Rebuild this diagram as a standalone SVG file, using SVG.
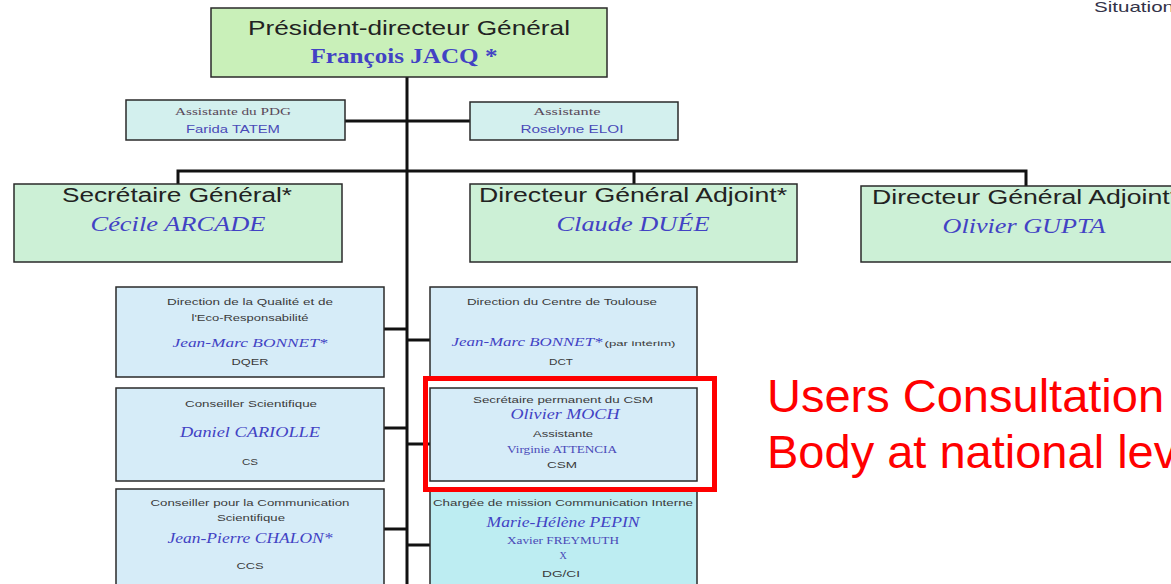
<svg xmlns="http://www.w3.org/2000/svg" width="1171" height="584" viewBox="0 0 1171 584">
<style>
.box{stroke:#2a2a2a;stroke-width:1.5}
.pdg{fill:#c9f0b9}
.asst{fill:#d3f0ee}
.dir{fill:#ccf0d6}
.unit{fill:#d6ecf8}
.unit2{fill:#bdedf2}
.ln{stroke:#111;stroke-width:3;fill:none}
.t{font-family:"Liberation Sans",Arial,sans-serif;fill:#222;text-anchor:middle}
.s{font-family:"Liberation Sans",Arial,sans-serif;fill:#3a3a3a;text-anchor:middle;font-size:9.5px}
.n{font-family:"Liberation Serif","Times New Roman",serif;fill:#4242c4;text-anchor:middle;font-style:italic}
.r{font-family:"Liberation Serif","Times New Roman",serif;fill:#4a4ab8;text-anchor:middle;font-size:10px}
.red{font-family:"Liberation Sans",Arial,sans-serif;fill:#ff0000;font-size:47px}
</style>
<rect width="1171" height="584" fill="#ffffff"/>
<g id="connectors">
<line class="ln" x1="407" y1="77" x2="407" y2="584"/>
<line class="ln" x1="345" y1="121" x2="470" y2="121"/>
<polyline class="ln" points="178,184 178,171 1026,171 1026,186"/>
<line class="ln" x1="634" y1="171" x2="634" y2="184"/>
<line class="ln" x1="384" y1="329" x2="407" y2="329"/>
<line class="ln" x1="384" y1="428" x2="407" y2="428"/>
<line class="ln" x1="384" y1="529" x2="407" y2="529"/>
<line class="ln" x1="407" y1="340" x2="430" y2="340"/>
<line class="ln" x1="407" y1="444" x2="430" y2="444"/>
<line class="ln" x1="407" y1="545" x2="430" y2="545"/>
</g>
<text class="t" x="1094" y="12" style="text-anchor:start;fill:#333348" font-size="15" textLength="80" lengthAdjust="spacingAndGlyphs">Situation</text>
<g id="pdg">
<rect class="box pdg" x="211" y="8" width="396" height="69"/>
<text class="t" x="409" y="35" font-size="21" textLength="322" lengthAdjust="spacingAndGlyphs">Président-directeur Général</text>
<text class="n" x="404" y="63" font-size="20" style="font-style:normal;font-weight:bold" textLength="187" lengthAdjust="spacingAndGlyphs">François JACQ *</text>
</g>
<g id="assistante-pdg">
<rect class="box asst" x="126" y="100" width="219" height="40"/>
<text class="r" x="233" y="115" style="fill:#5a4a5a" font-size="9.5" textLength="116" lengthAdjust="spacingAndGlyphs">Assistante du PDG</text>
<text class="t" x="233" y="133" font-size="10" style="fill:#4a4ab8" textLength="94" lengthAdjust="spacingAndGlyphs">Farida TATEM</text>
</g>
<g id="assistante">
<rect class="box asst" x="470" y="102" width="208" height="38"/>
<text class="r" x="567" y="115" style="fill:#5a4a5a" font-size="9.5" textLength="67" lengthAdjust="spacingAndGlyphs">Assistante</text>
<text class="t" x="572" y="133" font-size="10" style="fill:#4a4ab8" textLength="103" lengthAdjust="spacingAndGlyphs">Roselyne ELOI</text>
</g>
<g id="sg">
<rect class="box dir" x="14" y="184" width="328" height="78"/>
<text class="t" x="177" y="202" font-size="20" textLength="230" lengthAdjust="spacingAndGlyphs">Secrétaire Général*</text>
<text class="n" x="178" y="231" font-size="21" textLength="175" lengthAdjust="spacingAndGlyphs">Cécile ARCADE</text>
</g>
<g id="dga1">
<rect class="box dir" x="470" y="184" width="327" height="78"/>
<text class="t" x="633" y="202" font-size="20" textLength="308" lengthAdjust="spacingAndGlyphs">Directeur Général Adjoint*</text>
<text class="n" x="633" y="231" font-size="21" textLength="153" lengthAdjust="spacingAndGlyphs">Claude DUÉE</text>
</g>
<g id="dga2">
<rect class="box dir" x="861" y="186" width="330" height="76"/>
<text class="t" x="1026" y="204" font-size="20" textLength="308" lengthAdjust="spacingAndGlyphs">Directeur Général Adjoint*</text>
<text class="n" x="1024" y="233" font-size="21" textLength="163" lengthAdjust="spacingAndGlyphs">Olivier GUPTA</text>
</g>
<g id="dqer">
<rect class="box unit" x="116" y="287" width="268" height="90"/>
<text class="s" x="250" y="305" textLength="166" lengthAdjust="spacingAndGlyphs">Direction de la Qualité et de</text>
<text class="s" x="250" y="321" textLength="117" lengthAdjust="spacingAndGlyphs">l'Eco-Responsabilité</text>
<text class="n" x="250" y="347" font-size="13" textLength="155" lengthAdjust="spacingAndGlyphs">Jean-Marc BONNET*</text>
<text class="s" x="250" y="365" textLength="37" lengthAdjust="spacingAndGlyphs">DQER</text>
</g>
<g id="cs">
<rect class="box unit" x="116" y="388" width="268" height="93"/>
<text class="s" x="251" y="407" textLength="132" lengthAdjust="spacingAndGlyphs">Conseiller Scientifique</text>
<text class="n" x="250" y="437" font-size="14" textLength="140" lengthAdjust="spacingAndGlyphs">Daniel CARIOLLE</text>
<text class="s" x="250" y="465" textLength="16" lengthAdjust="spacingAndGlyphs">CS</text>
</g>
<g id="ccs">
<rect class="box unit" x="116" y="489" width="268" height="100"/>
<text class="s" x="250" y="506" textLength="199" lengthAdjust="spacingAndGlyphs">Conseiller pour la Communication</text>
<text class="s" x="251" y="521" textLength="68" lengthAdjust="spacingAndGlyphs">Scientifique</text>
<text class="n" x="250" y="543" font-size="14" textLength="165" lengthAdjust="spacingAndGlyphs">Jean-Pierre CHALON*</text>
<text class="s" x="250" y="569" textLength="27" lengthAdjust="spacingAndGlyphs">CCS</text>
</g>
<g id="dct">
<rect class="box unit" x="430" y="287" width="267" height="90"/>
<text class="s" x="562" y="305" textLength="190" lengthAdjust="spacingAndGlyphs">Direction du Centre de Toulouse</text>
<text class="n" x="527" y="346" font-size="13" textLength="151" lengthAdjust="spacingAndGlyphs">Jean-Marc BONNET*</text>
<text class="s" x="640" y="346" font-size="8" style="font-size:8px" textLength="71" lengthAdjust="spacingAndGlyphs">(par intérim)</text>
<text class="s" x="561" y="365" textLength="24" lengthAdjust="spacingAndGlyphs">DCT</text>
</g>
<g id="csm">
<rect class="box unit" x="430" y="388" width="267" height="93"/>
<text class="s" x="563" y="403" textLength="180" lengthAdjust="spacingAndGlyphs">Secrétaire permanent du CSM</text>
<text class="n" x="565" y="419" font-size="14" textLength="109" lengthAdjust="spacingAndGlyphs">Olivier MOCH</text>
<text class="s" x="563" y="437" textLength="60" lengthAdjust="spacingAndGlyphs">Assistante</text>
<text class="r" x="562" y="453" textLength="110" lengthAdjust="spacingAndGlyphs">Virginie ATTENCIA</text>
<text class="s" x="562" y="468" textLength="30" lengthAdjust="spacingAndGlyphs">CSM</text>
</g>
<g id="dgci">
<rect class="box unit2" x="430" y="489" width="267" height="100"/>
<text class="s" x="563" y="506" textLength="260" lengthAdjust="spacingAndGlyphs">Chargée de mission Communication Interne</text>
<text class="n" x="563" y="527" font-size="14" textLength="153" lengthAdjust="spacingAndGlyphs">Marie-Hélène PEPIN</text>
<text class="r" x="563" y="544" textLength="112" lengthAdjust="spacingAndGlyphs">Xavier FREYMUTH</text>
<text class="r" x="563" y="559">X</text>
<text class="s" x="561" y="577" textLength="38" lengthAdjust="spacingAndGlyphs">DG/CI</text>
</g>
<g id="annotation">
<rect x="425.5" y="378.5" width="289" height="111" fill="none" stroke="#ff0000" stroke-width="5"/>
<text class="red" x="767" y="412">Users Consultation</text>
<text class="red" x="767" y="468">Body at national level</text>
</g>
</svg>
